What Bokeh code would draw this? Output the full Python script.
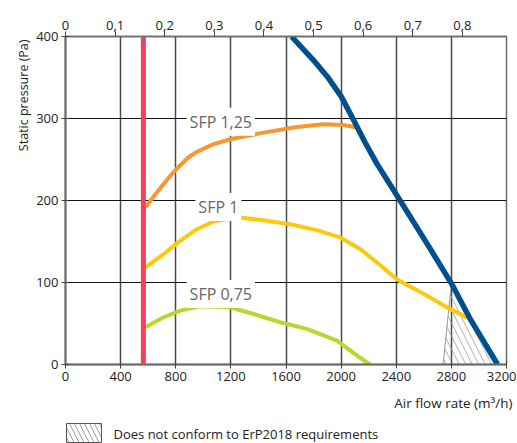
from bokeh.plotting import figure
from bokeh.layouts import column
from bokeh.models import Range1d, LinearAxis, FixedTicker, Label, Span, Title
from bokeh.core.properties import value
from bokeh.embed import file_html
from bokeh.resources import INLINE

FONT = "Open Sans"

# ---- data ----
X_TICKS = [0, 400, 800, 1200, 1600, 2000, 2400, 2800, 3200]
Y_TICKS = [0, 100, 200, 300, 400]
TOP_TICK_VALUES = [0, 0.1, 0.2, 0.3, 0.4, 0.5, 0.6, 0.7, 0.8]          # m3/s
TOP_TICK_LABELS = ["0", "0,1", "0,2", "0,3", "0,4", "0,5", "0,6", "0,7", "0,8"]
M3H_PER_M3S = 3600

SFP_LIMIT_FLOW = 565  # minimum flow (red line), m3/h

FAN_X = [1640, 1800, 1900, 2000, 2085, 2170, 2259, 2428, 2621, 2800, 2935, 3135]
FAN_Y = [400, 371, 351, 327, 300, 272, 245, 200, 148, 99, 56, 0]

SFP125_X = [580, 650, 712, 775, 833, 895, 954, 1075, 1196, 1437, 1679, 1872, 2017, 2114]
SFP125_Y = [191.5, 207, 220, 233, 243, 253, 259.5, 268.7, 274.7, 282.8, 289.7, 293, 292, 289]

SFP1_X = [580, 712, 833, 954, 1075, 1244, 1437, 1630, 1824, 1993, 2138, 2259, 2404, 2621, 2790, 2935]
SFP1_Y = [118.5, 134.7, 151, 165, 174.5, 179.5, 176, 171, 163.9, 155, 140.8, 124.6, 104, 84, 67.8, 55.5]

SFP075_X = [580, 712, 833, 978, 1196, 1365, 1558, 1751, 1969, 2114, 2210]
SFP075_Y = [45.4, 57.6, 65.7, 71, 69.8, 61.6, 51.5, 43.4, 29, 11, 0]

ERP_FOOT_FLOW = 2740   # lower-left corner of non-conforming zone
ERP_START_FLOW = 2800  # where the zone meets the fan curve

SFP_LABELS = ["SFP 1,25", "SFP 1", "SFP 0,75"]
SFP_LABEL_X = [1127, 1109, 1127]
SFP_LABEL_Y = [296, 192, 86]

LEGEND_LABEL = "Does not conform to ErP2018 requirements"

# ---- main figure ----
p = figure(frame_width=441, frame_height=328,
           x_range=Range1d(0, 3200), y_range=Range1d(0, 400),
           output_backend="svg", toolbar_location=None,
           min_border_left=65, min_border_top=36, min_border_right=10, min_border_bottom=57)
p.outline_line_color = "#6b6b6b"
p.outline_line_width = 1.5
p.background_fill_color = "white"
p.border_fill_color = "white"

p.xaxis.ticker = FixedTicker(ticks=X_TICKS)
p.yaxis.ticker = FixedTicker(ticks=Y_TICKS)
for ax in (p.xaxis[0], p.yaxis[0]):
    ax.axis_line_color = "#6b6b6b"
    ax.axis_line_width = 2
    ax.major_tick_line_color = "#444444"
    ax.major_tick_in = 3
    ax.major_tick_out = 4
    ax.minor_tick_line_color = None
    ax.major_label_text_font = FONT
    ax.major_label_text_font_size = "13px"
    ax.major_label_text_color = "#222222"
    ax.major_label_standoff = 3

p.xgrid.ticker = FixedTicker(ticks=X_TICKS[1:-1])
p.ygrid.ticker = FixedTicker(ticks=Y_TICKS[1:-1])
p.xgrid.grid_line_color = "#4a4a4a"
p.xgrid.grid_line_width = 1.5
p.ygrid.grid_line_color = "#111111"
p.ygrid.grid_line_width = 1

top_ticks = [round(v * M3H_PER_M3S) for v in TOP_TICK_VALUES]
top_axis = LinearAxis(ticker=FixedTicker(ticks=top_ticks),
                      major_label_overrides={t: l for t, l in zip(top_ticks, TOP_TICK_LABELS)})
top_axis.axis_line_color = "#6b6b6b"
top_axis.axis_line_width = 1.5
top_axis.major_tick_line_color = "#444444"
top_axis.major_tick_in = 0
top_axis.major_tick_out = 5
top_axis.minor_tick_line_color = None
top_axis.major_label_text_font = FONT
top_axis.major_label_text_font_size = "13px"
top_axis.major_label_text_color = "#222222"
top_axis.major_label_standoff = 2
p.add_layout(top_axis, "above")

# non-conforming zone (hatched)
hx = [ERP_FOOT_FLOW] + [x for x in FAN_X if x >= ERP_START_FLOW]
hy = [0] + [y for x, y in zip(FAN_X, FAN_Y) if x >= ERP_START_FLOW]
p.patch(hx, hy, fill_color=None, line_color=None,
        hatch_pattern="\\", hatch_color="#9a9a9a", hatch_scale=13, hatch_weight=0.8)
p.line([hx[0], hx[1]], [hy[0], hy[1]], line_color="#9a9a9a", line_width=1)

# curves
p.line(SFP075_X, SFP075_Y, line_color="#BDD531", line_width=4, line_join="round")
p.line(SFP1_X, SFP1_Y, line_color="#FFC80F", line_width=4, line_join="round")
p.line(SFP125_X, SFP125_Y, line_color="#F7972F", line_width=4, line_join="round")
p.line(FAN_X, FAN_Y, line_color="#004F8E", line_width=5.5, line_join="round")

p.add_layout(Span(location=SFP_LIMIT_FLOW, dimension="height",
                  line_color="#EF4159", line_width=5))

for t, x, y in zip(SFP_LABELS, SFP_LABEL_X, SFP_LABEL_Y):
    p.add_layout(Label(x=x, y=y, text=t, text_align="center", text_baseline="middle",
                       text_font=FONT, text_font_size="16px", text_color="#666666",
                       background_fill_color="white", padding=3))

# axis titles
p.add_layout(Title(text="Static pressure (Pa)", align="right", offset=3, standoff=4,
                   text_font=FONT, text_font_size="12.5px", text_font_style="normal",
                   text_color="#222222"), "left")
p.add_layout(Title(text="Air flow rate (m³/h)", align="right", offset=-6, standoff=16,
                   text_font=FONT, text_font_size="13.5px", text_font_style="normal",
                   text_color="#222222"), "below")

# ---- key strip below the chart (frame aligned with the main frame, pixel units) ----
q = figure(width=516, height=22, x_range=Range1d(65, 506), y_range=Range1d(0, 22),
           output_backend="svg", toolbar_location=None, min_border=0,
           x_axis_location=None, y_axis_location=None)
q.grid.visible = False
q.outline_line_color = None
q.quad(left=[66], right=[101], bottom=[1], top=[20], fill_color=None,
       line_color="#555555", line_width=1,
       hatch_pattern="\\", hatch_color="#8a8a8a", hatch_scale=10, hatch_weight=0.8)
q.text(x=[113], y=[10], text=[LEGEND_LABEL], text_baseline="middle", text_align="left",
       text_font=value(FONT), text_font_size="13px", text_color="#222222")

layout = column(p, q, spacing=0)
open("out.html", "w").write(file_html(layout, INLINE))
